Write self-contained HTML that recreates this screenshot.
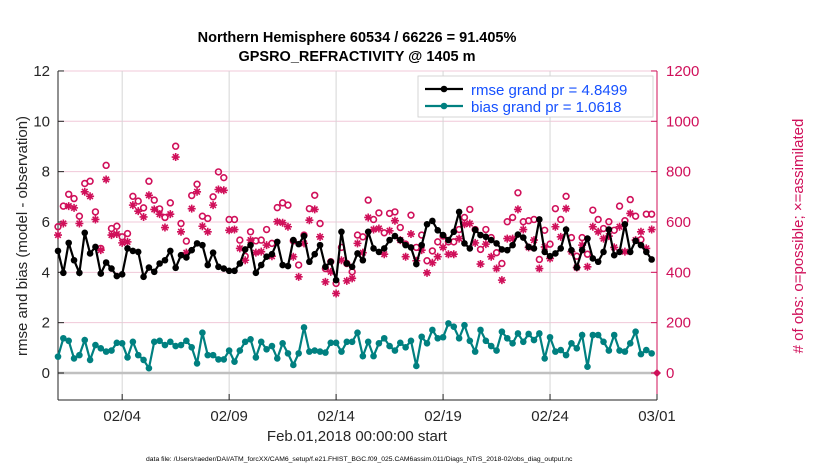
<!DOCTYPE html>
<html><head><meta charset="utf-8"><style>
body{margin:0;background:#fff}
svg text{font-family:"Liberation Sans",sans-serif}
</style></head><body>
<svg id="c" width="830" height="470" xmlns="http://www.w3.org/2000/svg"></svg>
<script>
const rmse=[4.85,3.98,5.17,4.48,3.98,5.57,4.75,5.01,3.95,4.39,4.15,3.85,3.92,4.95,4.85,4.81,3.82,4.19,4.02,4.35,4.48,4.85,4.18,4.68,4.59,4.88,5.15,5.08,
4.29,4.78,4.22,4.15,4.06,4.06,4.35,4.91,5.08,3.98,4.29,4.62,4.72,5.21,4.29,4.25,5.28,5.12,5.44,4.42,4.72,5.08,4.22,4.42,3.69,5.61,4.35,4.22,
4.75,4.48,5.61,4.95,4.81,4.95,5.28,5.44,5.28,5.08,4.99,4.33,5.08,5.91,6.04,5.67,5.48,5.28,5.61,6.4,5.15,4.95,5.69,5.48,5.41,5.28,5.15,4.91,
4.88,5.08,5.5,5.38,5.01,4.95,6.1,4.81,4.64,4.75,4.95,5.7,4.88,4.19,4.88,5.34,4.55,4.42,4.81,5.7,4.68,4.81,5.91,4.81,5.25,5.08,4.81,4.51];
const bias=[0.65,1.38,1.28,0.58,0.71,1.31,0.52,1.11,0.98,0.85,0.89,1.2,1.18,0.62,1.24,0.71,0.52,0.19,1.24,1.28,1.11,1.24,1.07,1.11,1.28,1.02,0.38,1.6,
0.71,0.71,0.54,0.54,0.89,0.45,0.89,1.24,1.34,0.62,1.24,0.94,1.07,0.58,1.18,0.78,0.32,0.78,1.81,0.85,0.89,0.85,0.81,1.2,1.2,0.85,1.24,1.24,
1.6,0.67,1.24,0.67,1.18,1.38,1.07,0.89,1.2,1.02,1.28,0.28,1.44,1.18,1.71,1.38,1.42,1.97,1.84,1.38,1.9,1.28,0.85,1.71,1.28,1.07,0.89,1.64,
1.38,1.18,1.57,1.24,1.55,1.31,1.57,0.58,1.42,0.85,0.91,0.71,1.18,0.98,1.51,0.25,1.51,1.51,1.24,0.89,1.51,0.89,0.85,1.18,1.64,0.75,0.91,0.78];
const possible=[581,663,710,693,623,753,762,640,495,825,574,583,541,554,702,683,656,762,687,652,618,676,901,594,524,705,750,623,
614,700,799,776,610,610,528,464,561,525,528,570,515,657,676,667,525,429,548,653,706,594,415,442,356,499,435,402,
548,541,687,610,636,557,634,640,578,512,627,499,548,446,485,521,544,521,521,570,618,650,570,491,570,538,478,435,
601,618,716,601,605,610,451,567,512,653,610,702,538,464,538,472,647,610,574,601,567,663,605,689,623,530,631,631];
const assim=[548,594,663,656,594,720,702,610,488,769,548,552,517,521,667,643,620,706,650,631,578,631,858,561,478,653,720,583,
561,667,729,726,567,570,495,448,528,478,482,508,464,601,597,581,462,382,515,607,650,541,362,402,316,448,366,376,
515,478,618,570,574,472,565,605,528,462,552,446,488,398,438,462,499,472,472,534,591,594,517,433,512,462,415,369,
534,534,650,570,499,528,415,501,455,581,541,653,482,419,508,422,581,561,534,544,499,581,482,634,528,561,495,570];
const leftTicks=[0,2,4,6,8,10,12];
const rightTicks=[0,200,400,600,800,1000,1200];
const xTickDays=[3,8,13,18,23,28];
const xTickLabels=["02/04","02/09","02/14","02/19","02/24","03/01"];
const stepDays=0.25;

const NS="http://www.w3.org/2000/svg", svg=document.getElementById('c');
const L=58,R=657,T=71,B=400;
const X=d=>L+(R-L)*d/28;
const Y=v=>373-v*25.17;
const Y2=v=>Y(v/100);
function mk(tag,at,parent){const e=document.createElementNS(NS,tag);for(const k in at)e.setAttribute(k,at[k]);(parent||svg).appendChild(e);return e;}
const PINK="#d0105a",TEAL="#008080";

// grid
const grid=mk('g',{});


leftTicks.forEach(v=>{if(v>0)mk('line',{x1:L,x2:R,y1:Y(v),y2:Y(v),stroke:"#f0c8d8","stroke-width":1},grid);});
xTickDays.forEach(d=>mk('line',{x1:X(d),x2:X(d),y1:T,y2:B,stroke:"#d6d6d6","stroke-width":1},grid));
const zl=mk('line',{x1:L,x2:R,y1:Y(0),y2:Y(0),stroke:"#c0c0c0","stroke-width":2.5});



// axes
const ax=mk('g',{});


mk('line',{x1:L,x2:L,y1:T,y2:B,stroke:"#222","stroke-width":1},ax);
mk('line',{x1:L,x2:R,y1:B,y2:B,stroke:"#222","stroke-width":1},ax);
mk('line',{x1:R,x2:R,y1:T,y2:B,stroke:PINK,"stroke-width":1},ax);
leftTicks.forEach(v=>{
  mk('line',{x1:L,x2:L+6,y1:Y(v),y2:Y(v),stroke:"#222"},ax);
  const t=mk('text',{x:L-8,y:Y(v)+5,"text-anchor":"end","font-size":15,fill:"#262626"},ax);t.textContent=v;
  
  
});
rightTicks.forEach(v=>{
  mk('line',{x1:R-6,x2:R,y1:Y2(v),y2:Y2(v),stroke:PINK},ax);
  const t=mk('text',{x:R+9,y:Y2(v)+5,"font-size":15,fill:PINK},ax);t.textContent=v;
  
  
});
xTickDays.forEach((d,i)=>{
  mk('line',{x1:X(d),x2:X(d),y1:B,y2:B-6,stroke:"#222"},ax);
  const t=mk('text',{x:X(d),y:B+21,"text-anchor":"middle","font-size":15,fill:"#262626"},ax);t.textContent=xTickLabels[i];
  
  
});

// pink markers
const pk=mk('g',{});


possible.forEach((v,i)=>{const c=mk('circle',{cx:X(i*stepDays),cy:Y2(v),r:2.9,fill:"none",stroke:PINK,"stroke-width":1.6},pk);
  
  });
assim.forEach((v,i)=>{const x=X(i*stepDays),y=Y2(v),s=4;
  const p=mk('path',{d:`M${x-s},${y}H${x+s}M${x},${y-s}V${y+s}M${x-s*.7},${y-s*.7}L${x+s*.7},${y+s*.7}M${x-s*.7},${y+s*.7}L${x+s*.7},${y-s*.7}`,stroke:PINK,"stroke-width":1.6},pk);
  
  });

function series(arr,col,name){
  const g=mk('g',{});
  
  
  mk('polyline',{points:arr.map((v,i)=>X(i*stepDays)+","+Y(v)).join(" "),fill:"none",stroke:col,"stroke-width":2.2},g);
  arr.forEach((v,i)=>mk('circle',{cx:X(i*stepDays),cy:Y(v),r:3.3,fill:col},g));
}
series(rmse,"#000","rmse-line");
series(bias,TEAL,"bias-line");
const em=mk('path',{d:`M${R-4},${Y(0)}L${R},${Y(0)-4}L${R+4},${Y(0)}L${R},${Y(0)+4}Z`,fill:PINK});


</script>
<svg width="830" height="470" style="position:absolute;left:0;top:0" xmlns="http://www.w3.org/2000/svg">
<g font-family="Liberation Sans, sans-serif" font-weight="bold" font-size="14.5" fill="#000" text-anchor="middle">
<text x="357" y="42">Northern Hemisphere 60534 / 66226 = 91.405%</text>
<text x="357" y="61">GPSRO_REFRACTIVITY @ 1405 m</text>
</g>
<g>
<rect x="418" y="76" width="235" height="41" fill="#fff" stroke="#ccc" stroke-width="0.8"/>
<line x1="425" x2="463" y1="89" y2="89" stroke="#000" stroke-width="2.2"/><circle cx="444" cy="89" r="3.3" fill="#000"/>
<text x="471" y="95" font-family="Liberation Sans, sans-serif" font-size="15" fill="#1550ff">rmse grand pr = 4.8499</text>
<line x1="425" x2="463" y1="106" y2="106" stroke="#008080" stroke-width="2.2"/><circle cx="444" cy="106" r="3.3" fill="#008080"/>
<text x="471" y="112" font-family="Liberation Sans, sans-serif" font-size="15" fill="#1550ff">bias grand pr = 1.0618</text>
</g>
<text transform="translate(27,236) rotate(-90)" text-anchor="middle" font-family="Liberation Sans, sans-serif" font-size="15" fill="#262626">rmse and bias (model - observation)</text>
<text transform="translate(803,236) rotate(-90)" text-anchor="middle" font-family="Liberation Sans, sans-serif" font-size="15" fill="#d0105a"># of obs: o=possible; ×=assimilated</text>
<text x="357" y="441" text-anchor="middle" font-family="Liberation Sans, sans-serif" font-size="15" fill="#262626">Feb.01,2018 00:00:00 start</text>
<text x="146" y="461" font-family="Liberation Sans, sans-serif" font-size="6.8" fill="#000">data file: /Users/raeder/DAI/ATM_forcXX/CAM6_setup/f.e21.FHIST_BGC.f09_025.CAM6assim.011/Diags_NTrS_2018-02/obs_diag_output.nc</text>
</svg>
</body></html>
